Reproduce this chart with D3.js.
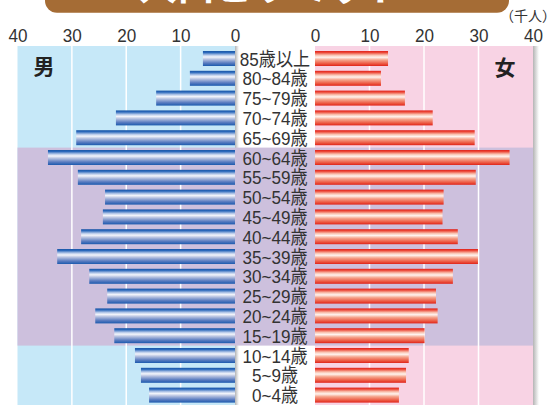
<!DOCTYPE html>
<html><head><meta charset="utf-8">
<script src="https://cdn.jsdelivr.net/npm/d3@7"></script>
<style>html,body{margin:0;padding:0;background:#fff;}svg{display:block;}</style>
</head><body>
<svg id="chart" width="556" height="405"></svg>
<script>
const ages = ["85歳以上","80~84歳","75~79歳","70~74歳","65~69歳","60~64歳","55~59歳","50~54歳","45~49歳","40~44歳","35~39歳","30~34歳","25~29歳","20~24歳","15~19歳","10~14歳","5~9歳","0~4歳"];
const male = [5.9,8.3,14.5,21.9,29.2,34.4,28.9,23.9,24.3,28.3,32.7,26.8,23.5,25.7,22.2,18.4,17.3,15.8];
const female = [13.4,12.1,16.5,21.6,29.3,35.7,29.5,23.6,23.4,26.2,29.9,25.3,22.2,22.5,20.1,17.2,16.7,15.4];
const ticks = [0,10,20,30,40];
const title = "人口ピラミッド";
const unit = "（千人）";
const workingAges = ["60~64歳","15~19歳"];

const svg = d3.select("#chart");
const defs = svg.append("defs");
const gm = defs.append("linearGradient").attr("id","gm").attr("x1",0).attr("y1",0).attr("x2",0).attr("y2",1);
[[0,"#1a56a6"],[0.1,"#2a68bb"],[0.28,"#b9cbea"],[0.4,"#f3f5fb"],[0.55,"#b7c2e0"],[0.8,"#5a7cc0"],[1,"#1c5aae"]]
  .forEach(s=>gm.append("stop").attr("offset",s[0]).attr("stop-color",s[1]));
const gf = defs.append("linearGradient").attr("id","gf").attr("x1",0).attr("y1",0).attr("x2",0).attr("y2",1);
[[0,"#e0201a"],[0.1,"#ec4636"],[0.28,"#f9c2b0"],[0.42,"#fff3ee"],[0.6,"#f5a48c"],[0.85,"#ec5640"],[1,"#e0241a"]]
  .forEach(s=>gf.append("stop").attr("offset",s[0]).attr("stop-color",s[1]));
const gs = defs.append("linearGradient").attr("id","gs").attr("x1",0).attr("y1",0).attr("x2",1).attr("y2",0);
[[0,"#b4b4b4"],[1,"#ffffff"]].forEach(s=>gs.append("stop").attr("offset",s[0]).attr("stop-color",s[1]));

const xL = d3.scaleLinear().domain([0,40]).range([235,17.5]);
const xR = d3.scaleLinear().domain([0,40]).range([315,533]);
const y = d3.scaleBand().domain(ages).range([48.6, 48.6+18*19.8]).paddingInner(0.242).paddingOuter(0.121);
const pad = y.step()*y.paddingInner()/2;
const pTop = 46, pBot = 405;

// title banner
svg.append("rect").attr("x",45).attr("y",-40).attr("width",464).attr("height",52.7).attr("rx",12).attr("fill","#a56c35");
svg.append("text").attr("x",272).attr("y",0).attr("text-anchor","middle")
  .attr("font-family","'Noto Sans CJK JP'").attr("font-weight","bold").attr("font-size",38)
  .attr("fill","#fff").text(title);

// shadows
svg.append("rect").attr("x",xL(0)).attr("y",pTop).attr("width",4).attr("height",pBot-pTop).attr("fill","url(#gs)");
svg.append("rect").attr("x",xR(40)).attr("y",pTop).attr("width",6).attr("height",pBot-pTop).attr("fill","url(#gs)");
// panels
svg.append("rect").attr("x",xL(40)).attr("y",pTop).attr("width",xL(0)-xL(40)).attr("height",pBot-pTop).attr("fill","#c6e8f8");
svg.append("rect").attr("x",xR(0)).attr("y",pTop).attr("width",xR(40)-xR(0)).attr("height",pBot-pTop).attr("fill","#f8d3e4");
// working-age band
const bandTop = y(workingAges[0]) - pad, bandBot = y(workingAges[1]) + y.bandwidth() + pad;
svg.append("rect").attr("x",xL(40)).attr("y",bandTop).attr("width",xR(40)-xL(40)).attr("height",bandBot-bandTop).attr("fill","#cdc0dd");

// gridlines
const gridT = ticks.filter(t=>t>0 && t<40);
svg.selectAll(".gl").data(gridT).enter().append("line")
  .attr("x1",d=>xL(d)).attr("x2",d=>xL(d)).attr("y1",pTop).attr("y2",pBot).attr("stroke","#fff").attr("stroke-width",1.5);
svg.selectAll(".gr").data(gridT).enter().append("line")
  .attr("x1",d=>xR(d)).attr("x2",d=>xR(d)).attr("y1",pTop).attr("y2",pBot).attr("stroke","#fff").attr("stroke-width",1.5);

// bars
svg.selectAll(".bm").data(ages).enter().append("rect")
  .attr("x",(d,i)=>xL(male[i])).attr("y",d=>y(d)).attr("width",(d,i)=>xL(0)-xL(male[i])).attr("height",y.bandwidth()).attr("fill","url(#gm)");
svg.selectAll(".bf").data(ages).enter().append("rect")
  .attr("x",xR(0)).attr("y",d=>y(d)).attr("width",(d,i)=>xR(female[i])-xR(0)).attr("height",y.bandwidth()).attr("fill","url(#gf)");

// age labels
svg.selectAll(".al").data(ages).enter().append("text")
  .attr("transform",d=>`translate(275,${y(d)+y.bandwidth()/2+7}) scale(0.9,1)`)
  .attr("text-anchor","middle").attr("font-family","'Liberation Sans','Noto Sans CJK JP',sans-serif")
  .attr("font-size",19).attr("fill","#333").text(d=>d);

// axis tick labels
const axL = d3.axisTop(xL).tickValues(ticks).tickSize(0).tickPadding(0);
const axR = d3.axisTop(xR).tickValues(ticks).tickSize(0).tickPadding(0);
[axL,axR].forEach(ax=>{
  const g = svg.append("g").attr("transform","translate(0,41.5)").call(ax);
  g.select(".domain").remove();
  g.selectAll(".tick text").attr("font-family","'Liberation Sans',sans-serif").attr("font-size",19).attr("fill","#333")
    .attr("dy",0).attr("y",0).attr("transform","scale(0.9,1)");
});

// unit
svg.append("text").attr("x",556).attr("y",21).attr("text-anchor","end")
  .attr("font-family","'Noto Sans CJK JP'").attr("font-size",14).attr("fill","#333").text(unit);
// gender labels
svg.append("text").attr("x",44).attr("y",74).attr("text-anchor","middle")
  .attr("font-family","'Noto Sans CJK JP'").attr("font-weight","bold").attr("font-size",21).attr("fill","#222").text("男");
svg.append("text").attr("x",505).attr("y",75).attr("text-anchor","middle")
  .attr("font-family","'Noto Sans CJK JP'").attr("font-weight","bold").attr("font-size",21).attr("fill","#222").text("女");
</script>
</body></html>
